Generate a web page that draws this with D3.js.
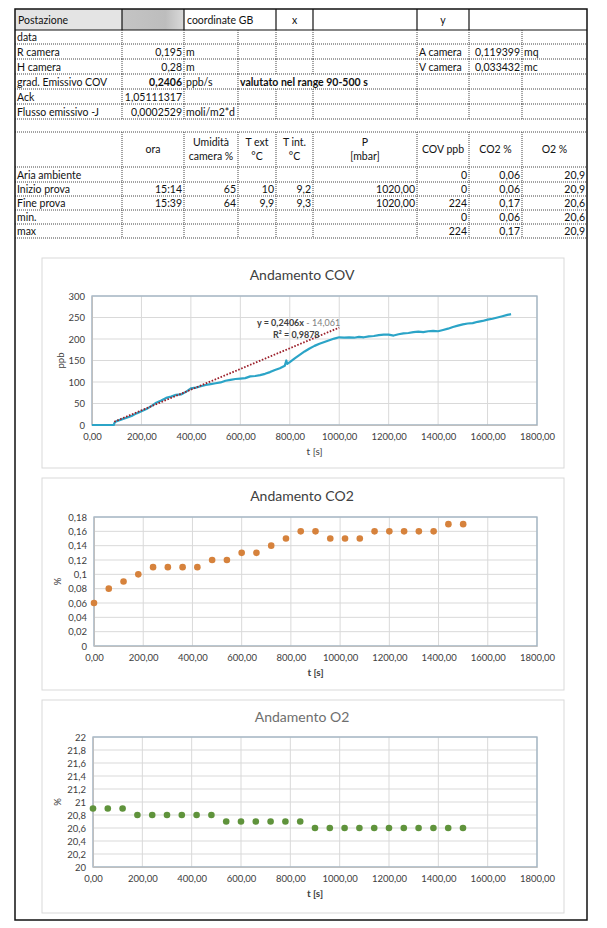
<!DOCTYPE html>
<html><head><meta charset="utf-8">
<script src="https://cdn.jsdelivr.net/npm/d3@7"></script>
<style>
body{margin:0;background:#fff;}
svg{display:block;font-family:Lato,"Open Sans",sans-serif;}
</style></head>
<body><svg id="c" width="607" height="928"></svg>
<script>
// ---------- DATA ----------
const headerRow = ["Postazione", "", "coordinate GB", "x", "", "y", ""];
const infoRows = [
  ["data", "", "", "", "", "", "", "", ""],
  ["R camera", "0,195", "m", "", "", "", "A camera", "0,119399", "mq"],
  ["H camera", "0,28", "m", "", "", "", "V camera", "0,033432", "mc"],
  ["grad. Emissivo COV", "0,2406", "ppb/s", "valutato nel range 90-500 s", "", "", "", "", ""],
  ["Ack", "1,05111317", "", "", "", "", "", "", ""],
  ["Flusso emissivo -J", "0,0002529", "moli/m2*d", "", "", "", "", "", ""]
];
const measHeader = ["", "ora", "Umidità|camera %", "T ext|°C", "T int.|°C", "P|[mbar]", "COV ppb", "CO2 %", "O2 %"];
const measRows = [
  ["Aria ambiente", "", "", "", "", "", "0", "0,06", "20,9"],
  ["Inizio prova", "15:14", "65", "10", "9,2", "1020,00", "0", "0,06", "20,9"],
  ["Fine prova", "15:39", "64", "9,9", "9,3", "1020,00", "224", "0,17", "20,6"],
  ["min.", "", "", "", "", "", "0", "0,06", "20,6"],
  ["max", "", "", "", "", "", "224", "0,17", "20,9"]
];

const covT = [0,20,40,60,80,88,92,100,120,140,160,180,200,220,240,260,280,300,320,340,360,380,400,420,440,460,480,500,520,540,560,580,600,620,640,660,680,700,720,740,760,780,786,790,800,820,840,860,880,900,920,940,960,980,1000,1020,1040,1060,1080,1100,1120,1140,1160,1180,1200,1220,1240,1260,1280,1300,1320,1340,1360,1380,1400,1420,1440,1460,1480,1500,1520,1540,1560,1580,1600,1620,1640,1660,1680,1695];
const covV = [0,0,0,0,0,0,6,9,13,17,21,27,32,37,44,52,57,63,66,70,71,77,85,87,90,93,95,97,99,103,105,107,108,109,113,114,116,119,123,128,132,138,150,142,146,155,163,171,178,184,189,193,197,201,204,203,204,203,205,204,206,207,209,210,210,208,211,213,214,216,217,216,218,219,218,221,224,228,231,234,236,237,240,242,245,247,250,253,256,258];
const trendSlope = 0.2406, trendIntercept = -14.061, trendRange = [90, 1000];

const sampleT = [0,60,120,180,240,300,360,420,480,540,600,660,720,780,840,900,960,1020,1080,1140,1200,1260,1320,1380,1440,1500];
const co2V = [0.06,0.08,0.09,0.10,0.11,0.11,0.11,0.11,0.12,0.12,0.13,0.13,0.14,0.15,0.16,0.16,0.15,0.15,0.15,0.16,0.16,0.16,0.16,0.16,0.17,0.17];
const o2V = [20.9,20.9,20.9,20.8,20.8,20.8,20.8,20.8,20.8,20.7,20.7,20.7,20.7,20.7,20.7,20.6,20.6,20.6,20.6,20.6,20.6,20.6,20.6,20.6,20.6,20.6];

const xTicks = [0,200,400,600,800,1000,1200,1400,1600,1800];
const covTicks = [0,50,100,150,200,250,300];
const co2Ticks = [0,0.02,0.04,0.06,0.08,0.10,0.12,0.14,0.16,0.18];
const o2Ticks = [20,20.2,20.4,20.6,20.8,21,21.2,21.4,21.6,21.8,22];

// ---------- LAYOUT ----------
const svg = d3.select("#c");
const colX = [15,122,184,238,276,313,417,469,522,587];
const infoY = [30,44,59,74,89,104,119];
const measY = [132,167,182,196,210,224,238];
const tFont = 10.5;
const itNum = d3.format(",.2f");
const fmtIt = v => d3.format(".2f")(v).replace(".", ",");
const fmtG = v => String(+v.toFixed(2)).replace(".", ",");
const fmtG1 = v => String(+v.toFixed(1)).replace(".", ",");

const tbl = svg.append("g");
// row 1 fills
tbl.append("rect").attr("x",colX[0]).attr("y",9).attr("width",colX[1]-colX[0]).attr("height",21).attr("fill","#e4e4e4");
const gr = svg.append("defs").append("linearGradient").attr("id","gg");
gr.append("stop").attr("offset","0").attr("stop-color","#c4c4c4");
gr.append("stop").attr("offset","0.7").attr("stop-color","#bdbdbd");
gr.append("stop").attr("offset","1").attr("stop-color","#dadada");
tbl.append("rect").attr("x",colX[1]).attr("y",9).attr("width",colX[2]-colX[1]).attr("height",21).attr("fill","url(#gg)");

function line(x1,y1,x2,y2,dotted){
  tbl.append("line").attr("x1",x1).attr("y1",y1).attr("x2",x2).attr("y2",y2)
    .attr("stroke", dotted ? "#444" : "#111").attr("stroke-width", dotted?1:1.2)
    .attr("stroke-dasharray", dotted ? "1,1" : null);
}
function txt(x,y,s,anchor,bold){
  tbl.append("text").attr("x",x).attr("y",y).attr("text-anchor",anchor||"start")
    .attr("font-size",tFont).attr("fill","#111").attr("font-weight",bold?"bold":"normal").text(s);
}
// row 1
const r1Cells = [[0,1],[1,2],[2,4],[4,5],[5,6],[6,7],[7,9]];
r1Cells.forEach((c,i)=>{
  const s = headerRow[i];
  if(!s) return;
  if(s==="x"||s==="y") txt((colX[c[0]]+colX[c[1]])/2, 24, s, "middle");
  else txt(colX[c[0]]+3, 24, s, "start");
});
[1,2,4,5,6,7].forEach(i=>line(colX[i],9,colX[i],30,false));
line(colX[0],30,colX[9],30,false);

// info rows
infoRows.forEach((r,ri)=>{
  const y0 = infoY[ri], y1 = infoY[ri+1];
  const by = y1 - 3.5;
  r.forEach((s,ci)=>{
    if(!s) return;
    const bold = ri===3 && (ci===1 || ci===3);
    if(ci===1 || ci===7) txt(colX[ci+1]-2, by, s, "end", bold);
    else txt(colX[ci]+2, by, s, "start", bold);
  });
  for(let i=1;i<9;i++){
    if(ri===3 && (i===4||i===5)) continue;
    line(colX[i],y0,colX[i],y1,true);
  }
  line(colX[0],y1,colX[9],y1,true);
});
// measurement table
line(colX[0],measY[0],colX[9],measY[0],true);
measHeader.forEach((s,ci)=>{
  if(!s) return;
  const cx=(colX[ci]+colX[ci+1])/2;
  const parts = s.split("|");
  if(parts.length===1) txt(cx,153,s,"middle");
  else { txt(cx,146,parts[0],"middle"); txt(cx,160,parts[1],"middle"); }
});
measRows.forEach((r,ri)=>{
  const y1 = measY[ri+2];
  r.forEach((s,ci)=>{
    if(!s) return;
    if(ci===0) txt(colX[0]+2,y1-3.5,s,"start");
    else txt(colX[ci+1]-2,y1-3.5,s,"end");
  });
});
for(let j=1;j<measY.length;j++) line(colX[0],measY[j],colX[9],measY[j],true);
for(let i=1;i<9;i++) line(colX[i],measY[0],colX[i],measY[measY.length-1],true);

// outer border
svg.append("rect").attr("x",15).attr("y",9).attr("width",572).attr("height",911)
  .attr("fill","none").attr("stroke","#111").attr("stroke-width",1.5);

// ---------- CHARTS ----------
function chart(cfg){
  const g = svg.append("g");
  g.append("rect").attr("x",42).attr("y",cfg.box[0]).attr("width",522).attr("height",cfg.box[1]-cfg.box[0])
    .attr("fill","#fff").attr("stroke","#d9d9d9").attr("stroke-width",1);
  const x = d3.scaleLinear().domain([0,1800]).range([cfg.left,537]);
  const y = d3.scaleLinear().domain(cfg.yDomain).range([cfg.bottom,cfg.top]);
  g.append("text").attr("x",302).attr("y",cfg.titleY).attr("text-anchor","middle")
    .attr("font-size",14).attr("fill",cfg.titleColor).text(cfg.title);
  // grid
  g.append("g").selectAll("line").data(xTicks).join("line")
    .attr("x1",d=>x(d)).attr("x2",d=>x(d)).attr("y1",cfg.top).attr("y2",cfg.bottom)
    .attr("stroke","#d9d9d9").attr("stroke-width",1);
  g.append("g").selectAll("line").data(cfg.yTicks).join("line")
    .attr("x1",cfg.left).attr("x2",537).attr("y1",d=>y(d)).attr("y2",d=>y(d))
    .attr("stroke","#d9d9d9").attr("stroke-width",1);
  g.append("rect").attr("x",cfg.left).attr("y",cfg.top).attr("width",537-cfg.left).attr("height",cfg.bottom-cfg.top)
    .attr("fill","none").attr("stroke","#9fb2c2").attr("stroke-width",1.3);
  // axes
  const xa = g.append("g").attr("transform",`translate(0,${cfg.bottom})`)
    .call(d3.axisBottom(x).tickValues(xTicks).tickFormat(fmtIt).tickSize(0).tickPadding(8));
  const ya = g.append("g").attr("transform",`translate(${cfg.left},0)`)
    .call(d3.axisLeft(y).tickValues(cfg.yTicks).tickFormat(cfg.yFmt).tickSize(0).tickPadding(7));
  [xa,ya].forEach(a=>{
    a.select(".domain").attr("stroke","#bfbfbf");
    a.selectAll("text").attr("font-size",9.5).attr("fill","#404040").attr("font-family","Lato,sans-serif");
  });
  g.append("text").attr("x",(cfg.left+537)/2).attr("y",cfg.bottom+30).attr("text-anchor","middle")
    .attr("font-size",10).attr("fill","#404040").attr("font-weight",cfg.xBold?"bold":"normal").text("t [s]");
  g.append("text").attr("transform",`translate(${cfg.yLabX},${(cfg.top+cfg.bottom)/2}) rotate(-90)`)
    .attr("text-anchor","middle").attr("font-size",9.5).attr("fill","#404040").text(cfg.yLabel);
  return {g,x,y};
}

// COV
{
  const {g,x,y} = chart({box:[258,468],top:296,bottom:425,left:92,yDomain:[0,300],yTicks:covTicks,
    yFmt:d=>d,title:"Andamento COV",titleY:280,titleColor:"#404040",yLabel:"ppb",yLabX:64});
  const data = covT.map((t,i)=>[t,covV[i]]);
  g.append("path").datum(data).attr("fill","none").attr("stroke","#2ba4c7").attr("stroke-width",2.2)
    .attr("stroke-linejoin","round")
    .attr("d",d3.line().x(d=>x(d[0])).y(d=>y(d[1])));
  g.append("line").attr("x1",x(trendRange[0])).attr("y1",y(trendSlope*trendRange[0]+trendIntercept))
    .attr("x2",x(trendRange[1])).attr("y2",y(trendSlope*trendRange[1]+trendIntercept))
    .attr("stroke","#9b1f2a").attr("stroke-width",1.8).attr("stroke-dasharray","1.6,1.6");
  const lab = g.append("text").attr("x",257).attr("y",326).attr("font-size",9).attr("fill","#404040");
  lab.append("tspan").attr("font-weight","bold").text("y = "+String(trendSlope).replace(".",",")+"x");
  lab.append("tspan").attr("fill","#808080").text(" - "+String(-trendIntercept).replace(".",","));
  g.append("text").attr("x",273).attr("y",338).attr("font-size",9).attr("font-weight","bold").attr("fill","#404040")
    .text("R² = 0,9878");
}
// CO2
{
  const {g,x,y} = chart({box:[478,690],top:517,bottom:646,left:94,yDomain:[0,0.18],yTicks:co2Ticks,
    yFmt:fmtG,title:"Andamento CO2",titleY:501,titleColor:"#404040",yLabel:"%",yLabX:61,xBold:true});
  g.append("g").selectAll("circle").data(sampleT).join("circle")
    .attr("cx",d=>x(d)).attr("cy",(d,i)=>y(co2V[i])).attr("r",3.3).attr("fill","#d6823c");
}
// O2
{
  const {g,x,y} = chart({box:[700,913],top:737,bottom:867,left:93,yDomain:[20,22],yTicks:o2Ticks,
    yFmt:fmtG1,title:"Andamento O2",titleY:722,titleColor:"#6e6e6e",yLabel:"%",yLabX:61,xBold:true});
  g.append("g").selectAll("circle").data(sampleT).join("circle")
    .attr("cx",d=>x(d)).attr("cy",(d,i)=>y(o2V[i])).attr("r",3.3).attr("fill","#5f933b");
}
</script></body></html>
